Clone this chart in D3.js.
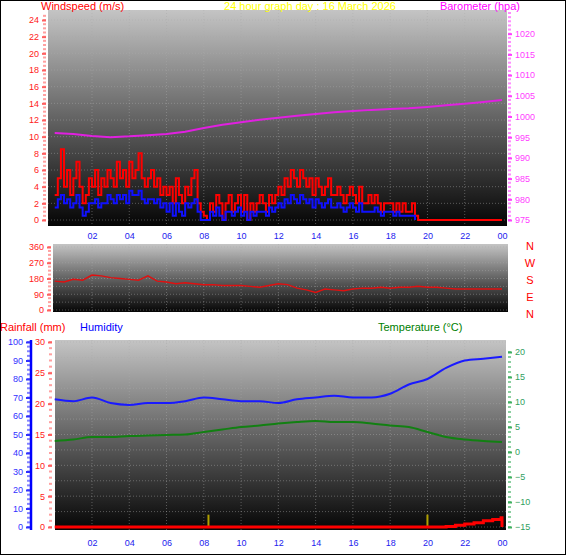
<!DOCTYPE html>
<html><head><meta charset="utf-8">
<script src="https://cdn.jsdelivr.net/npm/d3@7"></script>
<style>
body{margin:0;background:#fff}
svg{display:block;font-family:"Liberation Sans",Arial,sans-serif}
</style></head><body>
<svg id="c" width="566" height="555"></svg>
<script>
const hourTicks = [2,4,6,8,10,12,14,16,18,20,22,24];
const hourLabels = ['02','04','06','08','10','12','14','16','18','20','22','00'];

// wind, 10 minute steps from 00:00
const gust = [
  3,5,8.5,4,6,3, 5,7,4,2,3,5, 4,6,3,5,4,6, 5,4,7,5,6,4, 7,5,6,8,5,4,
  5,6,4,5,3,4, 3,4,2,5,3,2, 4,3,5,6,2,1, 0.5,0,2,1,3,2, 0,2,3,1,2,3,
  1,3,0,2,1,2, 3,2,1,3,2,3, 4,3,5,4,6,5, 4,6,5,4,5,3, 5,4,3,4,5,3,
  3,4,3,2,3,4, 3,2,4,2,2,3, 2,3,2,1,2,2, 2,1,2,1,2,1, 1,2,0.5,0,0,0,
  0,0,0,0,0,0, 0,0,0,0,0,0, 0,0,0,0,0,0, 0,0,0,0,0,0, 0
];
const avgWind = [
  1.5,2.5,3,2,2.5,1.5, 2,3,1.5,0.5,1,2, 2,2.5,1.5,2,2,3, 2.5,2,3,2.5,3,2, 3.5,3,3,3.5,2.5,2,
  2.5,2.5,2,2.5,1.5,2, 1,2,0.5,2,1,0.5, 2,1.5,2,2.5,1,0, 0,0,1,0.5,1.5,0.5, 0,1,1,0.5,1,1.5,
  0.5,1,0,1,0.5,1, 1,1,0.5,1.5,1,1.5, 2,1.5,2.5,2,3,2.5, 2,3,2.5,2,2.5,1.5, 2.5,2,1.5,2,2.5,1.5,
  1.5,2,1.5,1,1.5,2, 1.5,1,2,1,1,1, 1,1.5,1,0.5,1,1, 1,0.5,1,0.5,0.5,0.5, 0.5,0.5,0
];
// hourly
const barometer = [996,995.8,995.3,995,995.2,995.5,995.8,996.3,997.2,998,998.6,999.2,999.7,1000.2,1000.6,1001,1001.3,1001.6,1001.8,1002,1002.3,1002.7,1003.1,1003.5,1004];
// 30 minute steps
const windDir = [165,160,175,170,200,195,185,180,175,170,195,165,160,150,155,150,145,145,140,140,140,135,130,140,150,145,125,115,100,120,115,110,120,125,125,130,125,130,130,135,130,130,125,120,120,120,120,120,120];
// hourly
const humidity = [69,68,70,67,66,67,67,68,70,69,68,68,67,69,70,71,70,70,72,77,80,86,90,91,92];
const temperature = [2.2,2.5,3,3,3.2,3.3,3.4,3.5,4,4.5,5,5.3,5.7,6,6.2,6,6,5.7,5.3,5,4,3,2.5,2.2,2];
// rainfall total from 20:00, 30 minute steps
const rainHours = [0,20,20.5,21,21.5,22,22.5,23,23.5,23.95,24];
const rainfall = [0,0,0,0.1,0.3,0.5,0.7,1,1.2,1.5,0];
const rainRateHours = [8.25,20];
const rainRate = [2,2];

const svg = d3.select('#c');
const x = d3.scaleLinear().domain([0,24]).range([54.7,502]);

svg.append('rect').attr('x',0.5).attr('y',0.5).attr('width',565).attr('height',554)
  .attr('fill','none').attr('stroke','#000');

const grad = svg.append('defs').append('linearGradient').attr('id','bg')
  .attr('x1',0).attr('x2',0).attr('y1',0).attr('y2',1);
grad.append('stop').attr('offset','0%').attr('stop-color','#c4c4c4');
grad.append('stop').attr('offset','55%').attr('stop-color','#5a5a5a');
grad.append('stop').attr('offset','100%').attr('stop-color','#050505');

function panel(x0, y0, x1, y1, gridYs) {
  svg.append('rect').attr('x',x0).attr('y',y0).attr('width',x1-x0).attr('height',y1-y0)
    .attr('fill','url(#bg)');
  svg.append('g').selectAll('line').data(gridYs).join('line')
    .attr('x1',x0).attr('x2',x1).attr('y1',d=>d).attr('y2',d=>d)
    .attr('stroke','#aaa').attr('stroke-opacity',0.45).attr('stroke-dasharray','1,2');
  svg.append('g').selectAll('line').data(hourTicks.slice(0,-1)).join('line')
    .attr('x1',d=>x(d)).attr('x2',d=>x(d)).attr('y1',y0).attr('y2',y1)
    .attr('stroke','#aaa').attr('stroke-opacity',0.45).attr('stroke-dasharray','1,2');
}

function hourAxis(y) {
  const g = svg.append('g').attr('transform',`translate(0,${y})`)
    .call(d3.axisBottom(x).tickValues(hourTicks).tickFormat((d,i)=>hourLabels[i]).tickSize(0));
  g.select('.domain').remove();
  g.selectAll('text').attr('fill','#2222ee').attr('font-size',9);
}

function sideAxis(scale, xPos, ticks, color, labelColor, left, minor) {
  const g = svg.append('g').attr('transform',`translate(${xPos},0)`)
    .call((left ? d3.axisLeft(scale) : d3.axisRight(scale)).tickValues(ticks)
      .tickFormat(d3.format('d')).tickSize(4).tickPadding(3));
  g.select('.domain').remove();
  g.selectAll('line').attr('stroke',color).attr('stroke-width',2);
  g.selectAll('text').attr('fill',labelColor).attr('font-size',9);
  svg.append('g').selectAll('rect').data(minor).join('rect')
    .attr('x', left ? xPos-3 : xPos).attr('y',d=>scale(d)-1).attr('width',3).attr('height',2)
    .attr('fill',color).attr('opacity',0.6);
  return g;
}

function label(txt, xp, yp, color, anchor) {
  svg.append('text').attr('x',xp).attr('y',yp).attr('fill',color).attr('font-size',11)
    .attr('text-anchor',anchor||'start').text(txt);
}

// ---- top: wind and barometer
const yWind = d3.scaleLinear().domain([0,24]).range([220,20]);
const yBaro = d3.scaleLinear().domain([975,1025]).range([220,13]);
panel(48, 10, 507, 226, d3.range(0,25,2).map(yWind));
sideAxis(yWind, 46, d3.range(0,25,2), '#ff6060', '#ff2020', true, d3.range(0,25,0.5));
sideAxis(yBaro, 508, d3.range(975,1021,5), '#ff40ff', '#ff40ff', false, d3.range(975,1026,1));

const tWind = (d,i)=> x(i/6);
const windLine = d3.line().x(tWind).curve(d3.curveStepAfter);
svg.append('path').datum(gust).attr('fill','none').attr('stroke','#ff0000').attr('stroke-width',2)
  .attr('d', windLine.y(d=>yWind(d)));
svg.append('path').datum(avgWind).attr('fill','none').attr('stroke','#1010ff').attr('stroke-width',2)
  .attr('d', windLine.y(d=>yWind(d)));
svg.append('path').datum(barometer).attr('fill','none').attr('stroke','#e020e0').attr('stroke-width',2)
  .attr('d', d3.line().x((d,i)=>x(i)).y(d=>yBaro(d)));

label('Windspeed (m/s)', 41, 10, '#ff0000');
label('24 hour graph day : 16 March 2026', 310, 10, '#ffff00', 'middle');
label('Barometer (hpa)', 520, 10, '#ff00ff', 'end');
hourAxis(230);

// ---- middle: wind direction
const yDir = d3.scaleLinear().domain([0,360]).range([310,247]);
panel(53, 244, 508, 312, d3.range(0,361,45).map(yDir));
sideAxis(yDir, 51, [0,90,180,270,360], '#ff6060', '#ff2020', true, d3.range(0,361,22.5));
svg.append('path').datum(windDir).attr('fill','none').attr('stroke','#e01010').attr('stroke-width',1.5)
  .attr('d', d3.line().x((d,i)=>x(i/2)).y(d=>yDir(d)));
['N','W','S','E','N'].forEach((t,i)=> label(t, 530, 250+i*17, '#ff0000', 'middle'));

// ---- bottom: rain, humidity, temperature
const yHum = d3.scaleLinear().domain([0,100]).range([527,342]);
const yRain = d3.scaleLinear().domain([0,30]).range([527,342]);
const yTemp = d3.scaleLinear().domain([-15,20]).range([527,352]);
panel(55, 340, 506, 530, d3.range(0,31,2.5).map(yRain));
svg.append('line').attr('x1',31).attr('x2',31).attr('y1',340).attr('y2',530)
  .attr('stroke','#0000ff').attr('stroke-width',2.5);
sideAxis(yHum, 30, d3.range(0,101,10), '#3030ff', '#3030ff', true, d3.range(0,101,2.5));
sideAxis(yRain, 52, d3.range(0,31,5), '#ff6060', '#ff2020', true, d3.range(0,31,1));
sideAxis(yTemp, 508, d3.range(-15,21,5), '#40b060', '#30a060', false, d3.range(-15,21,1));

svg.append('g').selectAll('line').data(rainRateHours).join('line')
  .attr('x1',d=>x(d)).attr('x2',d=>x(d)).attr('y1',yRain(0)).attr('y2',(d,i)=>yRain(rainRate[i]))
  .attr('stroke','#b0a000').attr('stroke-width',2);
svg.append('path').datum(humidity).attr('fill','none').attr('stroke','#1a1aff').attr('stroke-width',2)
  .attr('d', d3.line().x((d,i)=>x(i)).y(d=>yHum(d)).curve(d3.curveMonotoneX));
svg.append('path').datum(temperature).attr('fill','none').attr('stroke','#128012').attr('stroke-width',2)
  .attr('d', d3.line().x((d,i)=>x(i)).y(d=>yTemp(d)).curve(d3.curveMonotoneX));
svg.append('path').datum(rainfall).attr('fill','none').attr('stroke','#ff0000').attr('stroke-width',3)
  .attr('d', d3.line().x((d,i)=>x(rainHours[i])).y(d=>yRain(d)).curve(d3.curveStepAfter));

label('Rainfall (mm)', 0, 331, '#ff0000');
label('Humidity', 80, 331, '#0000ff');
label('Temperature (°C)', 378, 331, '#008000');
hourAxis(537);
</script></body></html>
